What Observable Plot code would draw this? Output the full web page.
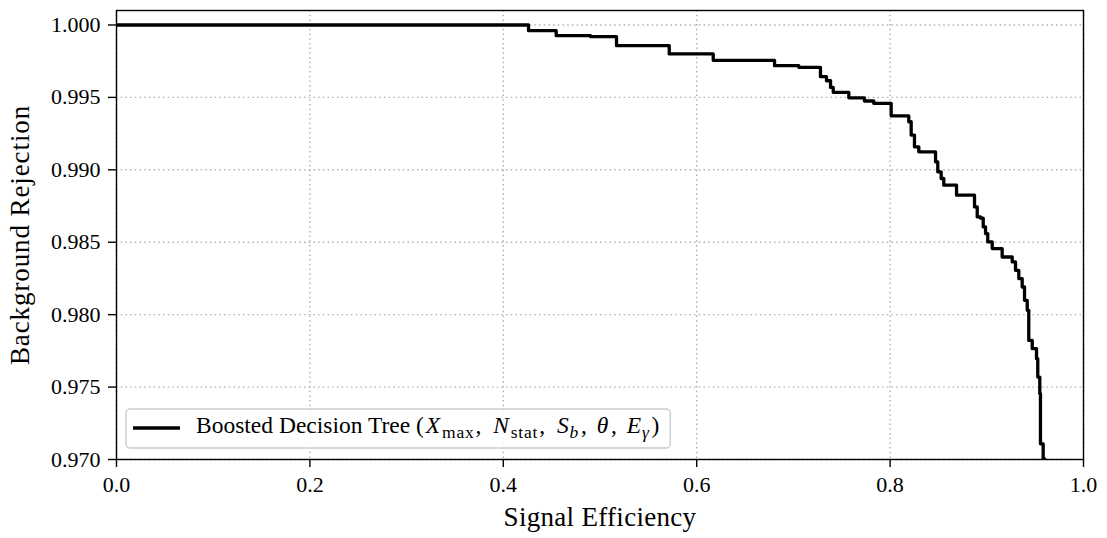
<!DOCTYPE html>
<html>
<head>
<meta charset="utf-8">
<script src="https://cdn.jsdelivr.net/npm/d3@7"></script>
<script src="https://cdn.jsdelivr.net/npm/@observablehq/plot@0.6"></script>
<style>
  html, body { margin: 0; padding: 0; background: white; }
  svg { display: block; }
</style>
</head>
<body>
<div id="chart"></div>
<script>
// ROC curve: signal efficiency (x) vs background rejection (y)
const signalEfficiency = [
  0.0000, 0.4261, 0.4547, 0.4902, 0.5171, 0.5716, 0.6171, 0.6805, 0.7056, 0.7280,
  0.7342, 0.7384, 0.7412, 0.7573, 0.7735, 0.7831, 0.8011, 0.8193, 0.8218, 0.8252,
  0.8297, 0.8470, 0.8493, 0.8528, 0.8555, 0.8687, 0.8873, 0.8901, 0.8935, 0.8963,
  0.8987, 0.9010, 0.9056, 0.9159, 0.9263, 0.9297, 0.9331, 0.9366, 0.9390, 0.9418,
  0.9434, 0.9470, 0.9514, 0.9527, 0.9548, 0.9555, 0.9583, 0.9600
];
const backgroundRejection = [
  1.00000, 0.99961, 0.99926, 0.99919, 0.99857, 0.99800, 0.99756, 0.99719, 0.99708, 0.99643,
  0.99615, 0.99569, 0.99535, 0.99497, 0.99475, 0.99459, 0.99373, 0.99332, 0.99240, 0.99159,
  0.99124, 0.99055, 0.98986, 0.98940, 0.98894, 0.98825, 0.98744, 0.98675, 0.98666, 0.98606,
  0.98560, 0.98502, 0.98456, 0.98398, 0.98364, 0.98306, 0.98249, 0.98191, 0.98099, 0.98030,
  0.97822, 0.97765, 0.97696, 0.97569, 0.97454, 0.97108, 0.97004, 0.96900
];
const xTicks = [0.0, 0.2, 0.4, 0.6, 0.8, 1.0];
const yTicks = [0.970, 0.975, 0.980, 0.985, 0.990, 0.995, 1.000];
const xLabel = "Signal Efficiency";
const yLabel = "Background Rejection";

const data = signalEfficiency.map((e, i) => ({eff: e, rej: backgroundRejection[i]}));

const W = 1107, H = 538, mL = 116, mR = 24, mT = 10, mB = 79;
const FONT = "'Liberation Serif', 'Times New Roman', serif";
const gridStyle = {stroke: "#b0b0b0", strokeOpacity: 1, strokeWidth: 1.4, strokeDasharray: "1.5,3.2"};

const chart = Plot.plot({
  width: W, height: H,
  marginLeft: mL, marginRight: mR, marginTop: mT, marginBottom: mB,
  style: {fontFamily: FONT, fontSize: "22px", color: "black", background: "white"},
  x: {domain: [0, 1]},
  y: {domain: [0.97, 1.001]},
  marks: [
    Plot.gridX(xTicks, gridStyle),
    Plot.gridY(yTicks, gridStyle),
    Plot.line(data, {x: "eff", y: "rej", curve: "step-after", stroke: "black", strokeWidth: 3.3, clip: true}),
    Plot.frame({stroke: "black", strokeWidth: 1.4}),
    Plot.axisX(xTicks, {tickSize: 8, tickPadding: 9, tickFormat: d3.format(".1f"), label: null, fontSize: 22, strokeWidth: 1.4}),
    Plot.axisY(yTicks, {tickSize: 8, tickPadding: 8, tickFormat: d3.format(".3f"), label: null, fontSize: 22, strokeWidth: 1.4}),
    Plot.text([xLabel], {text: d => d, frameAnchor: "bottom", textAnchor: "middle", lineAnchor: "bottom", dy: 66, fontSize: 27, fill: "black"}),
    Plot.text([yLabel], {text: d => d, frameAnchor: "left", textAnchor: "middle", lineAnchor: "bottom", rotate: -90, dx: -88, fontSize: 27, fill: "black"})
  ]
});
document.getElementById("chart").appendChild(chart);

// slight letter spacing on axis titles to approach the reference widths
d3.select(chart).selectAll("text").filter(function() {
  const t = this.textContent;
  return t === xLabel || t === yLabel;
}).attr("letter-spacing", function() { return this.textContent === yLabel ? "0.9px" : "0.3px"; });

// Legend (inside the frame, lower left)
const svg = d3.select(chart);
const lg = svg.append("g").attr("font-family", FONT).attr("fill", "black").attr("text-anchor", "start");
const bx = mL + 10, by = H - mB - 50, bh = 39;
const rect = lg.append("rect")
  .attr("x", bx).attr("y", by).attr("height", bh).attr("rx", 4)
  .attr("fill", "white").attr("fill-opacity", 0.8)
  .attr("stroke", "#cccccc").attr("stroke-width", 1.4);
lg.append("line")
  .attr("x1", bx + 7).attr("x2", bx + 54).attr("y1", by + 19).attr("y2", by + 19)
  .attr("stroke", "black").attr("stroke-width", 3.3);
const txt = lg.append("text").attr("x", bx + 70).attr("y", by + 24)
  .attr("font-size", 23.5).attr("text-anchor", "start");
// [text, kind, extra gap before]
const parts = [
  ["Boosted Decision Tree (", "n", 0],
  ["X", "i", 2], ["max", "sub", 1], [",", "n", 1],
  ["N", "i", 11], ["stat", "sub", 1], [",", "n", 1],
  ["S", "i", 11], ["b", "subi", 0], [",", "n", 2],
  ["\u03B8", "i", 9], [",", "n", 2],
  ["E", "i", 9], ["\u03B3", "subi", 0], [")", "n", 2]
];
let shifted = false;
for (const [t, kind, gap] of parts) {
  const ts = txt.append("tspan").text(t);
  const isSub = kind === "sub" || kind === "subi";
  if (kind === "i" || kind === "subi") ts.attr("font-style", "italic");
  if (t !== "Boosted Decision Tree (") ts.attr("letter-spacing", "0.8px");
  if (gap) ts.attr("dx", gap);
  if (isSub) {
    ts.attr("font-size", 17.5);
    if (!shifted) { ts.attr("dy", 5); shifted = true; }
  } else if (shifted) {
    ts.attr("dy", -5); shifted = false;
  }
}
txt.style("white-space", "pre");
const tw = txt.node().getBBox().width;
rect.attr("width", 70 + tw + 10);
</script>
</body>
</html>
